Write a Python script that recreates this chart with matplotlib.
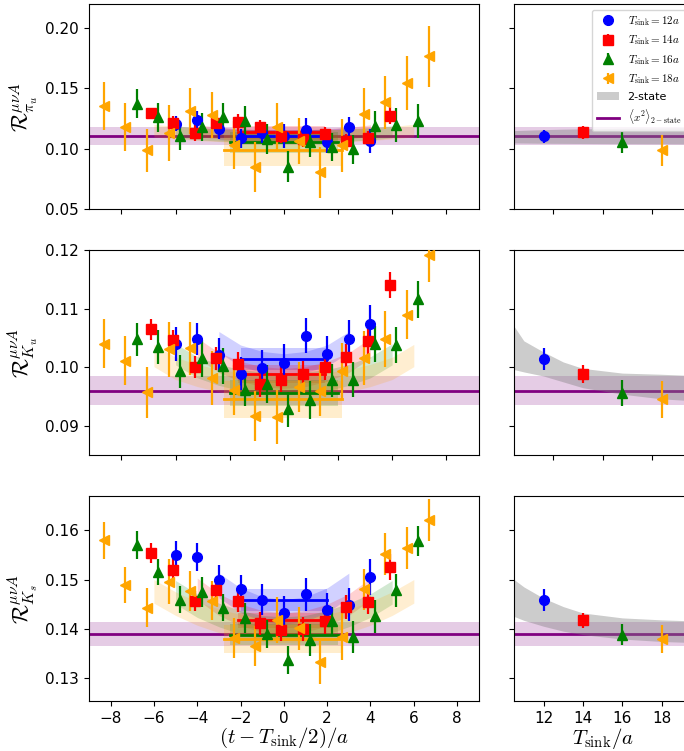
import numpy as np
import matplotlib
matplotlib.use('Agg')
import matplotlib.pyplot as plt
from matplotlib.patches import Patch
from matplotlib.lines import Line2D

plt.rcParams['mathtext.fontset'] = 'cm'

T_sink = [12, 14, 16, 18]
colors = ['blue', 'red', 'green', 'orange']
markers = ['o', 's', '^', '<']
x_shift = [0.0, -0.12, 0.2, -0.32]

# ---------------- pi_u ----------------
pi_y = [
    [0.1207, 0.1235, 0.1163, 0.1086, 0.1132, 0.1105, 0.1158, 0.1056, 0.1177, 0.1066],
    [0.1296, 0.1213, 0.1130, 0.1210, 0.1218, 0.1177, 0.1108, 0.1080, 0.1119, 0.1061, 0.1089, 0.1274],
    [0.1373, 0.1260, 0.1105, 0.1180, 0.1263, 0.1227, 0.1083, 0.0851, 0.1052, 0.1014, 0.0994, 0.1185, 0.1196, 0.1227],
    [0.1356, 0.1182, 0.0986, 0.1130, 0.1315, 0.1282, 0.1028, 0.0848, 0.1177, 0.1061, 0.0804, 0.1028, 0.1290, 0.1384, 0.1545, 0.1765],
]
pi_e = [
    [0.0062, 0.0080, 0.0080, 0.0080, 0.0085, 0.0100, 0.0095, 0.0090, 0.0090, 0.0100],
    [0.0040, 0.0060, 0.0065, 0.0055, 0.0070, 0.0060, 0.0060, 0.0065, 0.0060, 0.0065, 0.0060, 0.0070],
    [0.0118, 0.0120, 0.0113, 0.0117, 0.0117, 0.0124, 0.0124, 0.0128, 0.0123, 0.0117, 0.0122, 0.0124, 0.0140, 0.0140],
    [0.020, 0.020, 0.018, 0.023, 0.019, 0.019, 0.020, 0.021, 0.020, 0.019, 0.021, 0.022, 0.021, 0.022, 0.022, 0.025],
]
pi_plat = [0.1102, 0.1138, 0.1052, 0.0986]
pi_plat_e = [0.0055, 0.0054, 0.0084, 0.0130]
pi_curve = [
    [0.1125, 0.1112, 0.1106, 0.1104, 0.1106, 0.1112, 0.1125],
    [0.1150, 0.1130, 0.1117, 0.1110, 0.1108, 0.1110, 0.1117, 0.1130, 0.1150],
    [0.1140, 0.1124, 0.1113, 0.1106, 0.1102, 0.1101, 0.1102, 0.1106, 0.1113, 0.1124, 0.1140],
    [0.1150, 0.1133, 0.1120, 0.1111, 0.1105, 0.1101, 0.1100, 0.1101, 0.1105, 0.1111, 0.1120, 0.1133, 0.1150],
]
pi_curve_e = [0.0050, 0.0048, 0.0050, 0.0052]
pi_x2, pi_x2_e = 0.1108, 0.0075
pi_gray_lo = [0.1048, 0.1047, 0.1045, 0.1044, 0.1043, 0.1041, 0.1040, 0.1039]
pi_gray_hi = [0.1150, 0.1153, 0.1158, 0.1162, 0.1165, 0.1169, 0.1172, 0.1174]

# ---------------- K_u ----------------
ku_y = [
    [0.1040, 0.1048, 0.1021, 0.0989, 0.0999, 0.1007, 0.1054, 0.1023, 0.1048, 0.1073],
    [0.1065, 0.1046, 0.1001, 0.1015, 0.1005, 0.0971, 0.0979, 0.0989, 0.1001, 0.1017, 0.1045, 0.1141],
    [0.1048, 0.1035, 0.0993, 0.1015, 0.1002, 0.0961, 0.0971, 0.0928, 0.0944, 0.0978, 0.0979, 0.1040, 0.1038, 0.1116],
    [0.1040, 0.1011, 0.0957, 0.1031, 0.1032, 0.0981, 0.0961, 0.0917, 0.0915, 0.0966, 0.0960, 0.0993, 0.1016, 0.1048, 0.1090, 0.1191],
]
ku_e = [
    [0.0029, 0.0027, 0.0029, 0.0028, 0.0030, 0.0032, 0.0030, 0.0031, 0.0033, 0.0033],
    [0.0018, 0.0018, 0.0019, 0.0020, 0.0021, 0.0021, 0.0021, 0.0022, 0.0022, 0.0022, 0.0023, 0.0022],
    [0.0028, 0.0029, 0.0028, 0.0031, 0.0030, 0.0028, 0.0032, 0.0030, 0.0033, 0.0028, 0.0030, 0.0031, 0.0031, 0.0032],
    [0.0042, 0.0042, 0.0043, 0.0047, 0.0045, 0.0046, 0.0043, 0.0043, 0.0046, 0.0043, 0.0043, 0.0049, 0.0046, 0.0048, 0.0042, 0.0046],
]
ku_plat = [0.1014, 0.0988, 0.0956, 0.0945]
ku_plat_e = [0.0019, 0.0015, 0.0022, 0.0031]
ku_curve = [
    [0.1043, 0.1020, 0.1009, 0.1005, 0.1009, 0.1020, 0.1043],
    [0.1033, 0.1008, 0.0993, 0.0984, 0.0981, 0.0984, 0.0993, 0.1008, 0.1033],
    [0.1022, 0.1000, 0.0987, 0.0978, 0.0974, 0.0972, 0.0974, 0.0978, 0.0987, 0.1000, 0.1022],
    [0.1020, 0.0998, 0.0986, 0.0977, 0.0972, 0.0969, 0.0967, 0.0969, 0.0972, 0.0977, 0.0986, 0.0998, 0.1020],
]
ku_curve_e = [0.0018, 0.0017, 0.0018, 0.0019]
ku_x2, ku_x2_e = 0.0960, 0.0025
ku_gray_lo = [0.0996, 0.0992, 0.0985, 0.0975, 0.0965, 0.0954, 0.0946, 0.0943]
ku_gray_hi = [0.1070, 0.1045, 0.1026, 0.1009, 0.0998, 0.0990, 0.0988, 0.0986]

# ---------------- K_s ----------------
ks_y = [
    [0.1549, 0.1546, 0.1500, 0.1480, 0.1459, 0.1432, 0.1470, 0.1439, 0.1449, 0.1505],
    [0.1554, 0.1520, 0.1456, 0.1479, 0.1456, 0.1411, 0.1398, 0.1399, 0.1415, 0.1444, 0.1454, 0.1526],
    [0.1570, 0.1515, 0.1459, 0.1475, 0.1443, 0.1422, 0.1389, 0.1336, 0.1377, 0.1415, 0.1383, 0.1425, 0.1478, 0.1578],
    [0.1580, 0.1489, 0.1443, 0.1496, 0.1477, 0.1457, 0.1381, 0.1365, 0.1418, 0.1401, 0.1332, 0.1384, 0.1480, 0.1552, 0.1564, 0.1621],
]
ks_e = [
    [0.0029, 0.0028, 0.0030, 0.0029, 0.0032, 0.0035, 0.0033, 0.0034, 0.0034, 0.0036],
    [0.0020, 0.0022, 0.0020, 0.0022, 0.0023, 0.0023, 0.0024, 0.0025, 0.0025, 0.0025, 0.0025, 0.0026],
    [0.0028, 0.0027, 0.0028, 0.0030, 0.0028, 0.0030, 0.0029, 0.0029, 0.0033, 0.0030, 0.0032, 0.0034, 0.0033, 0.0030],
    [0.0038, 0.0037, 0.0040, 0.0045, 0.0041, 0.0040, 0.0041, 0.0041, 0.0047, 0.0044, 0.0044, 0.0047, 0.0041, 0.0042, 0.0043, 0.0042],
]
ks_plat = [0.1459, 0.1417, 0.1388, 0.1379]
ks_plat_e = [0.0022, 0.0015, 0.0022, 0.0029]
ks_curve = [
    [0.1488, 0.1458, 0.1440, 0.1434, 0.1440, 0.1458, 0.1488],
    [0.1481, 0.1449, 0.1428, 0.1415, 0.1410, 0.1415, 0.1428, 0.1449, 0.1481],
    [0.1474, 0.1447, 0.1428, 0.1413, 0.1403, 0.1400, 0.1403, 0.1413, 0.1428, 0.1447, 0.1474],
    [0.1476, 0.1451, 0.1431, 0.1416, 0.1405, 0.1398, 0.1396, 0.1398, 0.1405, 0.1416, 0.1431, 0.1451, 0.1476],
]
ks_curve_e = [0.0025, 0.0022, 0.0024, 0.0024]
ks_x2, ks_x2_e = 0.1389, 0.0024
ks_gray_lo = [0.1425, 0.1417, 0.1405, 0.1395, 0.1388, 0.1379, 0.1374, 0.1372]
ks_gray_hi = [0.1500, 0.1485, 0.1462, 0.1445, 0.1432, 0.1422, 0.1418, 0.1416]

gray_T = [10.5, 11, 12, 13, 14, 16, 18, 19.5]

# plateau x ranges (in units of t - T/2)
plat_lo = [-2.0, -2.12, -2.5, -2.75]
plat_hi = [2.0, 1.88, 2.5, 2.7]

rows = [
    (pi_y, pi_e, pi_plat, pi_plat_e, pi_curve, pi_curve_e, pi_x2, pi_x2_e, pi_gray_lo, pi_gray_hi,
     r'$\mathcal{R}^{\mu\nu A}_{\pi_u}$', (0.05, 0.22), [0.05, 0.10, 0.15, 0.20]),
    (ku_y, ku_e, ku_plat, ku_plat_e, ku_curve, ku_curve_e, ku_x2, ku_x2_e, ku_gray_lo, ku_gray_hi,
     r'$\mathcal{R}^{\mu\nu A}_{K_u}$', (0.085, 0.12), [0.09, 0.10, 0.11, 0.12]),
    (ks_y, ks_e, ks_plat, ks_plat_e, ks_curve, ks_curve_e, ks_x2, ks_x2_e, ks_gray_lo, ks_gray_hi,
     r'$\mathcal{R}^{\mu\nu A}_{K_s}$', (0.1253, 0.167), [0.13, 0.14, 0.15, 0.16]),
]

fig = plt.figure(figsize=(6.84, 7.51), dpi=100)
bottoms = [0.7217, 0.394, 0.0666]
ms = 7

for r, (ys, es, plat, plat_e, curve, curve_e, x2, x2_e, g_lo, g_hi, ylab, ylim, yt) in enumerate(rows):
    axL = fig.add_axes([0.130, bottoms[r], 0.570, 0.273])
    axR = fig.add_axes([0.7515, bottoms[r], 0.259, 0.273])

    for ax in (axL, axR):
        ax.axhspan(x2 - x2_e, x2 + x2_e, color='purple', alpha=0.2, lw=0, zorder=0)
        ax.axhline(x2, color='purple', lw=2, zorder=1)

    for k, T in enumerate(T_sink):
        c = colors[k]
        n = T // 2 - 3
        xc = np.arange(-n, n + 1)
        cm = np.array(curve[k])
        axL.fill_between(xc, cm - curve_e[k], cm + curve_e[k], color=c, alpha=0.18, lw=0, zorder=1)
        axL.fill_between([plat_lo[k], plat_hi[k]], plat[k] - plat_e[k], plat[k] + plat_e[k],
                         color=c, alpha=0.2, lw=0, zorder=1)
        axL.plot([plat_lo[k], plat_hi[k]], [plat[k], plat[k]], color=c, lw=2, zorder=2)

        t = np.arange(1, T - 1) - T / 2 + x_shift[k]
        axL.errorbar(t, ys[k], yerr=es[k], fmt=markers[k], color=c, ms=ms,
                     elinewidth=1.6, capsize=0, zorder=3)
        axR.errorbar([T], [plat[k]], yerr=[plat_e[k]], fmt=markers[k], color=c, ms=ms,
                     elinewidth=1.6, capsize=0, zorder=3,
                     label=r'$T_{\rm sink}=%da$' % T)

    axR.fill_between(gray_T, g_lo, g_hi, color='gray', alpha=0.4, lw=0, zorder=1)

    axL.set_xlim(-9, 9)
    axR.set_xlim(10.5, 19.5)
    axL.set_ylim(*ylim)
    axR.set_ylim(*ylim)
    axL.set_yticks(yt)
    axR.set_yticks(yt)
    axR.set_yticklabels([])
    axL.set_ylabel(ylab, fontsize=16)
    axL.tick_params(labelsize=11)
    axR.tick_params(labelsize=11)

    if r < 2:
        axL.set_xticks(np.arange(-7.5, 7.6, 2.5))
        axL.set_xticklabels([])
        axR.set_xticks([12.5, 15, 17.5])
        axR.set_xticklabels([])
    else:
        axL.set_xticks(np.arange(-8, 9, 2))
        axR.set_xticks([12, 14, 16, 18])
        axL.set_xlabel(r'$(t-T_{\rm sink}/2)/a$', fontsize=15, labelpad=0)
        axR.set_xlabel(r'$T_{\rm sink}/a$', fontsize=15, labelpad=0)

    if r == 0:
        h, l = axR.get_legend_handles_labels()
        h += [Patch(color='gray', alpha=0.4, lw=0), Line2D([], [], color='purple', lw=2)]
        l += ['2-state', r'$\langle x^2\rangle_{2-{\rm state}}$']
        axR.legend(h, l, loc='upper right', fontsize=8)

fig.savefig('out.png', dpi=100)
